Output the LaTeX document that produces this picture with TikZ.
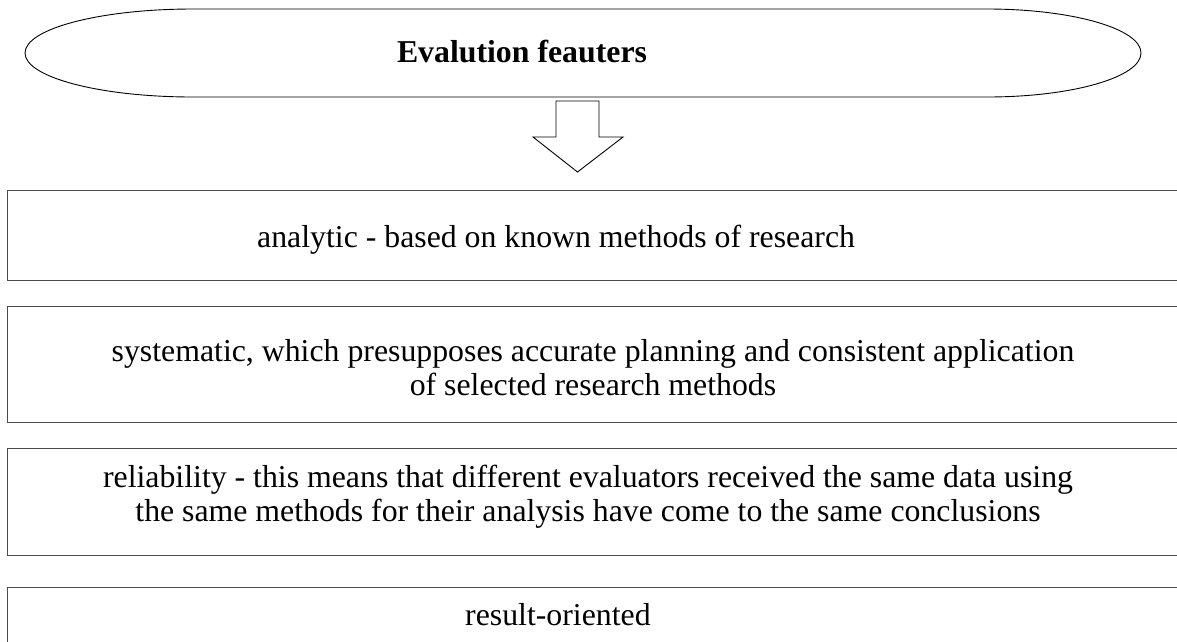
\documentclass[tikz,border=0pt]{standalone}
\usepackage{fontspec}
\setmainfont{Liberation Serif}
\usepackage{tikz}
\usetikzlibrary{positioning,calc}

\tikzset{
  panel/.style={draw=black!70,line width=1.2pt,rectangle,minimum width=1210,inner sep=0pt,anchor=north west},
  txt/.style={inner sep=0pt,align=center,font=\fontsize{31.8}{34}\selectfont}
}

\begin{document}
\begin{tikzpicture}[x=1pt,y=-1pt]
            \useasboundingbox (0,0) rectangle (1177,641);
            \fill[white] (0,0) rectangle (1177,641);
            \clip (0,0) rectangle (1177,641);

            % Title
            \draw[line width=0.9pt] (193,9) -- (987,9)
              arc[start angle=-90,end angle=90,x radius=154,y radius=44]
              -- (193,97)
              arc[start angle=90,end angle=270,x radius=168,y radius=44] -- cycle;
            \node[txt,font=\fontsize{31.8}{34}\selectfont\bfseries,anchor=base] (title) at (522,62) {Evalution feauters};

            % Arrow
            \draw[line width=0.9pt] (556,101) -- (599,101) -- (599,137) -- (623,137)
              -- (577.5,172) -- (533,137) -- (556,137) -- cycle;

            % Features
            \node[panel,minimum height=90] (box1) at (7,190) {};
            \node[txt,anchor=base west] (f1) at (257,247) {analytic - based on known methods of research};

            \node[panel,minimum height=116] (box2) at (7,306) {};
            \node[txt,anchor=base] (f2) at (593,395) {systematic, which presupposes accurate planning and consistent application\\of selected research methods};

            \node[panel,minimum height=107] (box3) at (7,448) {};
            \node[txt,anchor=base] (f3) at (588,521) {reliability - this means that different evaluators received the same data using\\the same methods for their analysis have come to the same conclusions};

            \node[panel,minimum height=90] (box4) at (7,587) {};
            \node[txt,anchor=base west] (f4) at (465,625) {result-oriented};
        \end{tikzpicture}
\end{document}
